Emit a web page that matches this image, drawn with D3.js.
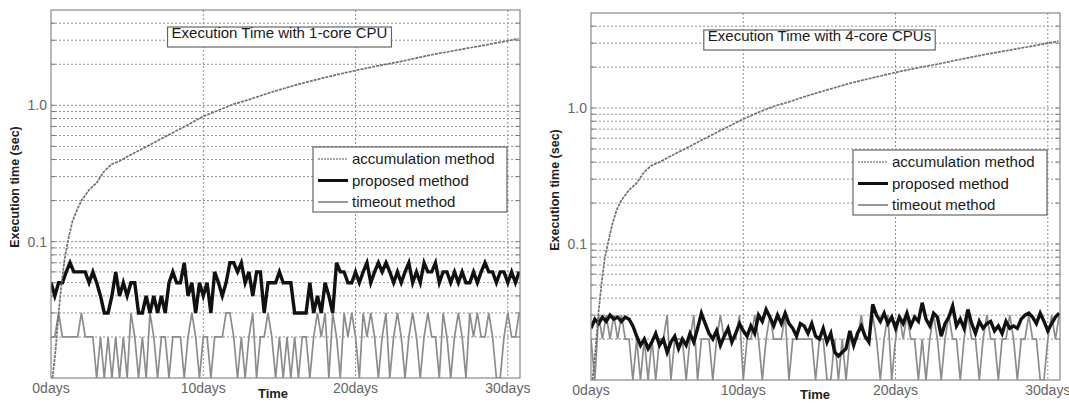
<!DOCTYPE html>
<html>
  <head>
    <meta charset="utf-8">
    <title>Execution time</title>
    <script src="https://d3js.org/d3.v7.min.js"></script>
    <style>
      body { margin: 0; background: #fff; }
      svg { display: block; font-family: "Liberation Sans", Arial, sans-serif; }
    </style>
  </head>
  <body>
    <svg id="chart" width="1069" height="403"></svg>
    <script>
      // samples are a quarter day apart, starting at day 0
      const sampleStep = 0.25;
      const xTicks = [0, 10, 20, 30];
      const xTickLabels = ["0days", "10days", "20days", "30days"];
      const yLabelTicks = [0.1, 1.0];
      const yTickLabels = ["0.1", "1.0"];
      const yGrid = [0.02, 0.03, 0.04, 0.05, 0.06, 0.07, 0.08, 0.09, 0.1,
        0.2, 0.3, 0.4, 0.5, 0.6, 0.7, 0.8, 0.9, 1, 2, 3, 4];
      const seriesNames = ["accumulation method", "proposed method", "timeout method"];

      // accumulation method, sampled on its own days
      const accDays = [0.1, 0.3, 0.5, 0.7, 0.9, 1.1, 1.4, 1.7, 2, 2.5, 3, 3.5, 4, 4.5, 5, 6, 7, 8, 9, 10,
        11, 12, 13, 14, 15, 16, 17, 18, 19, 20, 21, 22, 23, 24, 25, 26, 27, 28, 29, 30, 30.7];
      const accLeft = [0.010, 0.016, 0.030, 0.050, 0.075, 0.10, 0.14, 0.17, 0.20, 0.24, 0.27, 0.33, 0.37, 0.39, 0.42,
        0.48, 0.55, 0.63, 0.72, 0.83, 0.92, 1.02, 1.10, 1.20, 1.30, 1.40, 1.50, 1.60, 1.70, 1.80,
        1.90, 2.00, 2.10, 2.22, 2.35, 2.46, 2.58, 2.70, 2.83, 2.97, 3.08];
      const accRight = [0.010, 0.017, 0.032, 0.052, 0.078, 0.10, 0.14, 0.18, 0.21, 0.25, 0.28, 0.34, 0.38, 0.40, 0.43,
        0.49, 0.56, 0.64, 0.73, 0.83, 0.93, 1.03, 1.11, 1.21, 1.31, 1.41, 1.52, 1.62, 1.72, 1.83,
        1.93, 2.03, 2.13, 2.25, 2.37, 2.49, 2.61, 2.73, 2.86, 3.00, 3.10];

      // proposed method, 1-core CPU
      const propLeft = [
        0.05,0.04,0.05,0.05, 0.06,0.07,0.06,0.06, 0.06,0.06,0.05,0.06, 0.05,0.04,0.03,0.03,
        0.04,0.06,0.04,0.05, 0.04,0.05,0.05,0.03, 0.03,0.04,0.03,0.04, 0.03,0.04,0.03,0.05,
        0.06,0.05,0.05,0.07, 0.04,0.05,0.03,0.05, 0.04,0.05,0.03,0.06, 0.05,0.04,0.05,0.07,
        0.07,0.06,0.07,0.05, 0.06,0.04,0.06,0.06, 0.03,0.05,0.05,0.05, 0.06,0.05,0.05,0.05,
        0.03,0.03,0.03,0.03, 0.05,0.03,0.04,0.03, 0.05,0.04,0.03,0.07, 0.06,0.06,0.05,0.05,
        0.06,0.05,0.06,0.07, 0.05,0.06,0.07,0.06, 0.07,0.06,0.05,0.06, 0.05,0.06,0.07,0.05,
        0.06,0.05,0.07,0.06, 0.06,0.07,0.05,0.06, 0.06,0.05,0.06,0.05, 0.06,0.05,0.05,0.06,
        0.05,0.06,0.07,0.06, 0.06,0.05,0.06,0.06, 0.05,0.06,0.05,0.06];
      // timeout method, 1-core CPU
      const timeoutLeft = [
        0.02,0.02,0.03,0.02, 0.02,0.02,0.02,0.02, 0.03,0.02,0.02,0.02, 0.01,0.02,0.01,0.02,
        0.01,0.02,0.01,0.02, 0.01,0.03,0.02,0.01, 0.02,0.01,0.03,0.02, 0.01,0.02,0.02,0.01,
        0.02,0.02,0.02,0.01, 0.02,0.03,0.02,0.01, 0.02,0.02,0.01,0.02, 0.02,0.02,0.03,0.03,
        0.02,0.01,0.02,0.01, 0.02,0.03,0.01,0.02, 0.02,0.03,0.02,0.01, 0.02,0.01,0.02,0.01,
        0.02,0.01,0.02,0.02, 0.01,0.02,0.03,0.02, 0.03,0.01,0.03,0.02, 0.01,0.03,0.02,0.03,
        0.02,0.01,0.03,0.02, 0.03,0.02,0.01,0.02, 0.03,0.01,0.02,0.03, 0.02,0.01,0.02,0.03,
        0.02,0.01,0.02,0.03, 0.02,0.02,0.01,0.03, 0.02,0.01,0.02,0.03, 0.02,0.01,0.03,0.02,
        0.03,0.02,0.02,0.03, 0.02,0.01,0.01,0.02, 0.03,0.02,0.02,0.03];

      // proposed method, 4-core CPUs
      const propRight = [
        0.024,0.028,0.026,0.029, 0.027,0.030,0.028,0.029, 0.027,0.029,0.028,0.025, 0.021,0.018,0.020,0.017,
        0.019,0.022,0.018,0.020, 0.016,0.019,0.021,0.017, 0.020,0.018,0.022,0.019, 0.024,0.031,0.026,0.022,
        0.020,0.023,0.018,0.021, 0.024,0.019,0.022,0.026, 0.023,0.021,0.025,0.022, 0.030,0.027,0.033,0.029,
        0.025,0.030,0.026,0.031, 0.026,0.024,0.021,0.026, 0.025,0.022,0.026,0.021, 0.020,0.024,0.019,0.022,
        0.016,0.015,0.016,0.017, 0.023,0.018,0.022,0.025, 0.021,0.019,0.036,0.030, 0.027,0.031,0.026,0.029,
        0.024,0.029,0.026,0.031, 0.025,0.029,0.027,0.037, 0.028,0.025,0.031,0.029, 0.021,0.026,0.029,0.035,
        0.025,0.028,0.024,0.033, 0.026,0.022,0.027,0.024, 0.026,0.027,0.023,0.025, 0.022,0.027,0.024,0.025,
        0.024,0.028,0.030,0.031, 0.029,0.026,0.031,0.027, 0.023,0.026,0.029,0.031];
      // timeout method, 4-core CPUs
      const timeoutRight = [
        0.02,0.01,0.03,0.02, 0.03,0.02,0.03,0.02, 0.03,0.02,0.02,0.01, 0.02,0.01,0.02,0.01,
        0.02,0.01,0.02,0.02, 0.03,0.01,0.02,0.02, 0.02,0.01,0.02,0.03, 0.01,0.02,0.02,0.02,
        0.01,0.02,0.03,0.02, 0.02,0.02,0.02,0.03, 0.01,0.02,0.02,0.03, 0.02,0.01,0.02,0.03,
        0.02,0.02,0.02,0.03, 0.01,0.02,0.02,0.02, 0.02,0.02,0.02,0.01, 0.02,0.02,0.01,0.01,
        0.02,0.01,0.02,0.01, 0.02,0.02,0.02,0.03, 0.02,0.02,0.03,0.02, 0.01,0.02,0.03,0.01,
        0.02,0.03,0.02,0.03, 0.02,0.02,0.01,0.02, 0.01,0.02,0.03,0.02, 0.01,0.02,0.03,0.02,
        0.02,0.01,0.02,0.03, 0.02,0.02,0.01,0.02, 0.03,0.02,0.02,0.01, 0.02,0.02,0.03,0.02,
        0.01,0.02,0.02,0.03, 0.02,0.02,0.01,0.01, 0.02,0.03,0.02,0.03];

      const svg = d3.select("#chart");

      const panels = [
        { id: "p1", left: 51, right: 520, top: 10, bottom: 378, title: "Execution Time with 1-core CPU",
          acc: accLeft, prop: propLeft, timeout: timeoutLeft, timeX: 273, timeY: 398, tickY: 393 },
        { id: "p2", left: 591, right: 1060, top: 13, bottom: 380, title: "Execution Time with 4-core CPUs",
          acc: accRight, prop: propRight, timeout: timeoutRight, timeX: 815, timeY: 399, tickY: 395 }
      ];

      panels.forEach(drawPanel);

      function drawPanel(p) {
        const x = d3.scaleLinear().domain([0, 30.8]).range([p.left, p.right]);
        const y = d3.scaleLog().domain([0.01, 5]).range([p.bottom, p.top]);
        const g = svg.append("g");

        g.append("clipPath").attr("id", "clip-" + p.id)
          .append("rect")
            .attr("x", p.left).attr("y", p.top)
            .attr("width", p.right - p.left).attr("height", p.bottom - p.top);

        // dotted grid
        g.selectAll(".hgrid").data(yGrid).enter().append("line")
          .attr("x1", p.left).attr("x2", p.right)
          .attr("y1", d => y(d)).attr("y2", d => y(d))
          .attr("stroke", "#8f8f8f").attr("stroke-width", 1).attr("stroke-dasharray", "2,2");
        g.selectAll(".vgrid").data(xTicks.slice(1)).enter().append("line")
          .attr("x1", d => x(d)).attr("x2", d => x(d))
          .attr("y1", p.top).attr("y2", p.bottom)
          .attr("stroke", "#8f8f8f").attr("stroke-width", 1).attr("stroke-dasharray", "2,2");

        // small inner ticks on left and right edges
        g.selectAll(".ltick").data(yGrid).enter().append("line")
          .attr("x1", p.left).attr("x2", p.left + 4)
          .attr("y1", d => y(d)).attr("y2", d => y(d))
          .attr("stroke", "#777");
        g.selectAll(".rtick").data(yGrid).enter().append("line")
          .attr("x1", p.right - 4).attr("x2", p.right)
          .attr("y1", d => y(d)).attr("y2", d => y(d))
          .attr("stroke", "#777");

        const day = (d, i) => x(i * sampleStep);
        const lines = g.append("g").attr("clip-path", "url(#clip-" + p.id + ")");

        lines.append("path")
          .datum(p.timeout)
          .attr("fill", "none").attr("stroke", "#8c8c8c").attr("stroke-width", 1.7)
          .attr("d", d3.line().x(day).y(d => y(d)));
        lines.append("path")
          .datum(p.prop)
          .attr("fill", "none").attr("stroke", "#111").attr("stroke-width", 3.4)
          .attr("d", d3.line().x(day).y(d => y(d)));
        lines.append("path")
          .datum(p.acc)
          .attr("fill", "none").attr("stroke", "#707070").attr("stroke-width", 1.7)
          .attr("stroke-dasharray", "3,1")
          .attr("d", d3.line().x((d, i) => x(accDays[i])).y(d => y(d)));

        // plot frame
        g.append("rect")
          .attr("x", p.left).attr("y", p.top)
          .attr("width", p.right - p.left).attr("height", p.bottom - p.top)
          .attr("fill", "none").attr("stroke", "#888").attr("stroke-width", 1.2);

        // tick labels
        g.selectAll(".xlab").data(xTicks).enter().append("text")
          .attr("x", d => x(d)).attr("y", p.tickY)
          .attr("text-anchor", "middle").attr("font-size", 14).attr("fill", "#666")
          .text((d, i) => xTickLabels[i]);
        g.selectAll(".ylab").data(yLabelTicks).enter().append("text")
          .attr("x", p.left - 4).attr("y", d => y(d))
          .attr("dy", "0.35em")
          .attr("text-anchor", "end").attr("font-size", 14).attr("fill", "#666")
          .text((d, i) => yTickLabels[i]);

        // axis titles
        g.append("text")
          .attr("transform", "translate(" + (p.left - 32) + "," + (p.top + 177) + ") rotate(-90)")
          .attr("text-anchor", "middle").attr("font-size", 12.5).attr("font-weight", "bold").attr("fill", "#222")
          .text("Execution time (sec)");
        g.append("text")
          .attr("x", p.timeX).attr("y", p.timeY)
          .attr("text-anchor", "middle").attr("font-size", 13).attr("font-weight", "bold").attr("fill", "#222")
          .text("Time");

        // title box
        const cx = (p.left + p.right) / 2 - 6;
        const title = g.append("text")
          .attr("x", cx).attr("y", p.top + 28)
          .attr("text-anchor", "middle").attr("font-size", 15).attr("fill", "#1a1a1a")
          .text(p.title);
        const tb = title.node().getBBox();
        g.insert("rect", function() { return title.node(); })
          .attr("x", tb.x - 4).attr("y", p.top + 17)
          .attr("width", tb.width + 8).attr("height", 20)
          .attr("fill", "#fff").attr("stroke", "#666").attr("stroke-width", 1.2);

        // legend
        const lx = p.right - 207, ly = p.top + 137;
        const legend = g.append("g");
        legend.append("rect")
          .attr("x", lx).attr("y", ly).attr("width", 194).attr("height", 65)
          .attr("fill", "#fff").attr("stroke", "#666").attr("stroke-width", 1.2);
        const styles = [
          { stroke: "#8a8a8a", width: 1.5, dash: "2,1" },
          { stroke: "#111", width: 3, dash: null },
          { stroke: "#8c8c8c", width: 1.8, dash: null }
        ];
        seriesNames.forEach((name, i) => {
          const ry = ly + 12 + i * 21.5;
          legend.append("line")
            .attr("x1", lx + 5).attr("x2", lx + 35)
            .attr("y1", ry).attr("y2", ry)
            .attr("stroke", styles[i].stroke).attr("stroke-width", styles[i].width)
            .attr("stroke-dasharray", styles[i].dash);
          legend.append("text")
            .attr("x", lx + 39).attr("y", ry).attr("dy", "0.35em")
            .attr("font-size", 15).attr("fill", "#1a1a1a")
            .text(name);
        });
      }
    </script>
  </body>
</html>
